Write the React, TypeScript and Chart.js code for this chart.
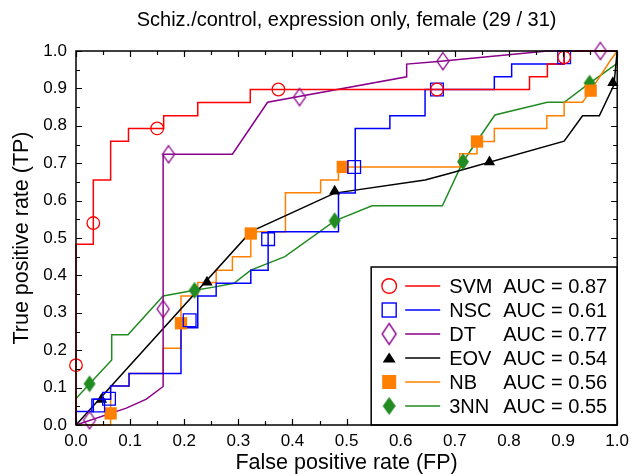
import React, { useEffect, useRef } from 'react';
import { Chart, registerables } from 'chart.js';

Chart.register(...registerables);

// ---------------- DATA ----------------
const chartTitle = 'Schiz./control, expression only, female (29 / 31)';
const xAxisTitle = 'False positive rate (FP)';
const yAxisTitle = 'True positive rate (TP)';
const xTickLabels = ['0.0', '0.1', '0.2', '0.3', '0.4', '0.5', '0.6', '0.7', '0.8', '0.9', '1.0'];
const yTickLabels = ['0.0', '0.1', '0.2', '0.3', '0.4', '0.5', '0.6', '0.7', '0.8', '0.9', '1.0'];

const seriesNames = ['SVM', 'NSC', 'DT', 'EOV', 'NB', '3NN'];
const aucValues = [0.87, 0.61, 0.77, 0.54, 0.56, 0.55];

// SVM
const svmFpr = [0, 0, 0.032, 0.032, 0.064, 0.064, 0.097, 0.097, 0.162, 0.162, 0.225, 0.225, 0.322, 0.322, 0.838, 0.838, 0.871, 0.871, 0.902, 0.902, 1.0];
const svmTpr = [0, 0.483, 0.483, 0.655, 0.655, 0.759, 0.759, 0.793, 0.793, 0.827, 0.827, 0.862, 0.862, 0.897, 0.897, 0.931, 0.931, 0.965, 0.965, 1.0, 1.0];
const svmMarkFpr = [0, 0.032, 0.15, 0.374, 0.667, 0.902];
const svmMarkTpr = [0.16, 0.54, 0.793, 0.897, 0.897, 0.983];

// NSC
const nscFpr = [0, 0, 0.032, 0.032, 0.064, 0.064, 0.098, 0.098, 0.194, 0.194, 0.225, 0.225, 0.259, 0.259, 0.323, 0.323, 0.355, 0.355, 0.485, 0.485, 0.516, 0.516, 0.58, 0.58, 0.645, 0.645, 0.773, 0.773, 0.805, 0.805, 0.902, 0.902, 1.0];
const nscTpr = [0, 0.036, 0.036, 0.069, 0.069, 0.104, 0.104, 0.138, 0.138, 0.26, 0.26, 0.345, 0.345, 0.379, 0.379, 0.414, 0.414, 0.517, 0.517, 0.62, 0.62, 0.793, 0.793, 0.827, 0.827, 0.897, 0.897, 0.931, 0.931, 0.965, 0.965, 1.0, 1.0];
const nscMarkFpr = [0.041, 0.061, 0.21, 0.355, 0.514, 0.667, 0.902];
const nscMarkTpr = [0.052, 0.07, 0.28, 0.497, 0.69, 0.897, 0.983];

// DT
const dtFpr = [0, 0.093, 0.13, 0.161, 0.161, 0.289, 0.354, 0.611, 0.611, 0.669, 0.871, 1.0];
const dtTpr = [0, 0.045, 0.069, 0.103, 0.724, 0.724, 0.863, 0.931, 0.965, 0.972, 1.0, 1.0];
const dtMarkFpr = [0.025, 0.161, 0.171, 0.413, 0.678, 0.969];
const dtMarkTpr = [0.013, 0.31, 0.724, 0.877, 0.973, 1.0];

// EOV
const eovFpr = [0, 0.323, 0.478, 0.645, 0.688, 0.902, 0.936, 0.967, 0.994, 1.0];
const eovTpr = [0, 0.517, 0.62, 0.655, 0.672, 0.759, 0.827, 0.827, 0.909, 1.0];
const eovMarkFpr = [0.047, 0.242, 0.478, 0.764, 0.992];
const eovMarkTpr = [0.068, 0.382, 0.625, 0.703, 0.915];

// NB
const nbFpr = [0, 0.064, 0.064, 0.098, 0.098, 0.161, 0.161, 0.194, 0.194, 0.225, 0.225, 0.259, 0.259, 0.289, 0.289, 0.323, 0.323, 0.387, 0.387, 0.452, 0.452, 0.485, 0.485, 0.709, 0.709, 0.741, 0.741, 0.773, 0.773, 0.87, 0.87, 0.902, 0.902, 0.936, 0.951, 0.988, 1.0];
const nbTpr = [0, 0, 0.104, 0.104, 0.138, 0.138, 0.205, 0.205, 0.345, 0.345, 0.381, 0.381, 0.414, 0.414, 0.45, 0.45, 0.517, 0.517, 0.621, 0.621, 0.655, 0.655, 0.69, 0.69, 0.725, 0.725, 0.758, 0.758, 0.793, 0.793, 0.827, 0.827, 0.863, 0.863, 0.894, 0.976, 1.0];
const nbMarkFpr = [0.064, 0.194, 0.323, 0.493, 0.741, 0.951];
const nbMarkTpr = [0.031, 0.272, 0.512, 0.69, 0.758, 0.894];

// 3NN
const nnFpr = [0, 0, 0.066, 0.066, 0.096, 0.161, 0.219, 0.252, 0.292, 0.323, 0.386, 0.478, 0.547, 0.677, 0.715, 0.774, 0.871, 0.902, 0.949, 1.0, 1.0];
const nnTpr = [0, 0.071, 0.174, 0.241, 0.241, 0.345, 0.36, 0.368, 0.379, 0.414, 0.45, 0.546, 0.586, 0.586, 0.704, 0.829, 0.863, 0.863, 0.914, 0.967, 1.0];
const nnMarkFpr = [0.025, 0.219, 0.478, 0.715, 0.949];
const nnMarkTpr = [0.11, 0.36, 0.546, 0.704, 0.914];

// ---------------- STYLE ----------------
const FONT = "'Liberation Sans', Arial, Helvetica, sans-serif";
const colors = ['#ff0000', '#0000ff', '#8b008b', '#000000', '#ff8000', '#228b22'];

function makeDiamond(color: string, filled: boolean, w: number, h: number, lw: number) {
  const pad = 2;
  const c = document.createElement('canvas');
  c.width = w + pad * 2;
  c.height = h + pad * 2;
  const ctx = c.getContext('2d')!;
  ctx.beginPath();
  ctx.moveTo(pad + w / 2, pad);
  ctx.lineTo(pad + w, pad + h / 2);
  ctx.lineTo(pad + w / 2, pad + h);
  ctx.lineTo(pad, pad + h / 2);
  ctx.closePath();
  if (filled) {
    ctx.fillStyle = color;
    ctx.fill();
  } else {
    ctx.strokeStyle = color;
    ctx.lineWidth = lw;
    ctx.stroke();
  }
  return c;
}

function zip(xs: number[], ys: number[]) {
  return xs.map((x, i) => ({ x, y: ys[i] }));
}

export default function App() {
  const ref = useRef<HTMLCanvasElement | null>(null);

  useEffect(() => {
    const canvas = ref.current;
    if (!canvas) return;
    document.body.style.margin = '0';

    const dtDiamond = makeDiamond(colors[2], false, 12, 17, 1.3);
    const nnDiamond = makeDiamond(colors[5], true, 12, 17, 1);
    const dtDiamondL = makeDiamond(colors[2], false, 14, 21, 1.4);
    const nnDiamondL = makeDiamond(colors[5], true, 13, 18, 1);

    const curves = [
      zip(svmFpr, svmTpr), zip(nscFpr, nscTpr), zip(dtFpr, dtTpr),
      zip(eovFpr, eovTpr), zip(nbFpr, nbTpr), zip(nnFpr, nnTpr),
    ];
    const marks = [
      zip(svmMarkFpr, svmMarkTpr), zip(nscMarkFpr, nscMarkTpr), zip(dtMarkFpr, dtMarkTpr),
      zip(eovMarkFpr, eovMarkTpr), zip(nbMarkFpr, nbMarkTpr), zip(nnMarkFpr, nnMarkTpr),
    ];
    const markStyle: any[] = [
      { pointStyle: 'circle', pointRadius: 6.3, bg: 'rgba(0,0,0,0)', bw: 1.3 },
      { pointStyle: 'rect', pointRadius: 9, bg: 'rgba(0,0,0,0)', bw: 1.3 },
      { pointStyle: dtDiamond, pointRadius: 8, bg: 'rgba(0,0,0,0)', bw: 1 },
      { pointStyle: 'triangle', pointRadius: 6.5, bg: colors[3], bw: 0 },
      { pointStyle: 'rect', pointRadius: 8.7, bg: colors[4], bw: 0 },
      { pointStyle: nnDiamond, pointRadius: 8, bg: colors[5], bw: 0 },
    ];

    const markerDatasets = marks.map((d, i) => ({
      label: seriesNames[i] + ' markers',
      data: d,
      showLine: false,
      pointStyle: markStyle[i].pointStyle,
      pointRadius: markStyle[i].pointRadius,
      pointBackgroundColor: markStyle[i].bg,
      pointBorderColor: colors[i],
      pointBorderWidth: markStyle[i].bw,
      clip: false as any,
    }));
    const lineDatasets = curves.map((d, i) => ({
      label: seriesNames[i],
      data: d,
      showLine: true,
      borderColor: colors[i],
      borderWidth: 1.5,
      pointRadius: 0,
      fill: false,
      tension: 0,
      clip: 4 as any,
    }));

    const framePlugin = {
      id: 'frameTicksLegend',
      afterDraw(chart: any) {
        const ctx = chart.ctx as CanvasRenderingContext2D;
        const { left, right, top, bottom } = chart.chartArea;
        const xs = chart.scales.x;
        const ys = chart.scales.y;
        ctx.save();
        // title
        ctx.fillStyle = '#000';
        ctx.font = `20px ${FONT}`;
        ctx.textAlign = 'center';
        ctx.textBaseline = 'middle';
        ctx.fillText(chartTitle, (left + right) / 2, 20);

        // ticks (inward on all sides)
        ctx.strokeStyle = '#000';
        ctx.lineWidth = 1.2;
        ctx.beginPath();
        for (let k = 0; k <= 20; k++) {
          const v = k * 0.05;
          const len = k % 2 === 0 ? 6 : 4;
          const px = Math.round(xs.getPixelForValue(v)) + 0.5;
          ctx.moveTo(px, bottom); ctx.lineTo(px, bottom - len);
          ctx.moveTo(px, top); ctx.lineTo(px, top + len);
          const py = Math.round(ys.getPixelForValue(v)) + 0.5;
          ctx.moveTo(left, py); ctx.lineTo(left + len, py);
          ctx.moveTo(right, py); ctx.lineTo(right - len, py);
        }
        ctx.stroke();

        // legend box
        const lw = 246, lh = 158;
        const lx = right - lw, ly = bottom - lh;
        ctx.fillStyle = '#fff';
        ctx.fillRect(lx, ly, lw, lh);
        ctx.lineWidth = 1.5;
        ctx.strokeRect(lx, ly, lw, lh);

        ctx.font = `20px ${FONT}`;
        ctx.textAlign = 'left';
        ctx.textBaseline = 'middle';
        for (let i = 0; i < seriesNames.length; i++) {
          const cy = ly + 19 + i * 24;
          const mx = lx + 18;
          ctx.strokeStyle = colors[i];
          ctx.fillStyle = colors[i];
          ctx.lineWidth = 1.4;
          if (i === 0) {
            ctx.beginPath(); ctx.arc(mx, cy, 7.3, 0, Math.PI * 2); ctx.stroke();
          } else if (i === 1) {
            ctx.strokeRect(mx - 7, cy - 7, 14, 14);
          } else if (i === 2) {
            ctx.drawImage(dtDiamondL, mx - dtDiamondL.width / 2, cy - dtDiamondL.height / 2);
          } else if (i === 3) {
            ctx.beginPath(); ctx.moveTo(mx, cy - 5.5); ctx.lineTo(mx + 6.5, cy + 4.5); ctx.lineTo(mx - 6.5, cy + 4.5); ctx.closePath(); ctx.fill();
          } else if (i === 4) {
            ctx.fillRect(mx - 7, cy - 7, 14, 14);
          } else {
            ctx.drawImage(nnDiamondL, mx - nnDiamondL.width / 2, cy - nnDiamondL.height / 2);
          }
          ctx.beginPath();
          ctx.moveTo(lx + 34, cy); ctx.lineTo(lx + 69, cy);
          ctx.stroke();
          ctx.fillStyle = '#000';
          ctx.fillText(seriesNames[i], lx + 78, cy + 1);
          ctx.fillText('AUC = ' + aucValues[i].toFixed(2), lx + 132, cy + 1);
        }

        // frame
        ctx.strokeStyle = '#000';
        ctx.lineWidth = 1.5;
        ctx.strokeRect(left, top, right - left, bottom - top);
        ctx.restore();
      },
    };

    const chart = new Chart(canvas, {
      type: 'scatter',
      data: { datasets: [...markerDatasets, ...lineDatasets] as any },
      options: {
        animation: false,
        responsive: false,
        devicePixelRatio: 1,
        layout: { padding: { top: 51, right: 15, left: 0, bottom: 0 } },
        plugins: { legend: { display: false }, title: { display: false }, tooltip: { enabled: false } },
        scales: {
          x: {
            type: 'linear', min: 0, max: 1,
            grid: { display: false, drawTicks: false },
            border: { display: false },
            ticks: {
              stepSize: 0.1, color: '#000', padding: 6, maxRotation: 0,
              font: { family: FONT, size: 17 },
              callback: (_v: any, i: number) => xTickLabels[i],
            },
            title: { display: true, text: xAxisTitle, color: '#000', font: { family: FONT, size: 21.5, lineHeight: 1 }, padding: { top: 0, bottom: 0 } },
            afterFit: (s: any) => { s.height = 49; },
          },
          y: {
            type: 'linear', min: 0, max: 1,
            grid: { display: false, drawTicks: false },
            border: { display: false },
            ticks: {
              stepSize: 0.1, color: '#000', padding: 9,
              font: { family: FONT, size: 17 },
              callback: (_v: any, i: number) => yTickLabels[i],
            },
            title: { display: true, text: yAxisTitle, color: '#000', font: { family: FONT, size: 21.5, lineHeight: 1 }, padding: { top: 11, bottom: 0 } },
            afterFit: (s: any) => { s.width = 76; },
          },
        },
      } as any,
      plugins: [framePlugin],
    });
    return () => chart.destroy();
  }, []);

  return (
    <div style={{ position: 'absolute', left: 0, top: 0, width: 635, height: 474, background: '#fff' }}>
      <canvas ref={ref} width={635} height={474} />
    </div>
  );
}
